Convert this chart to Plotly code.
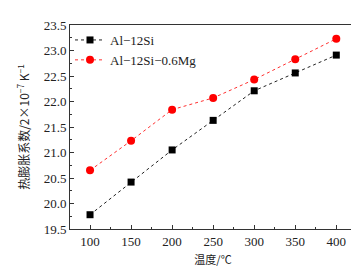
import plotly.graph_objects as go

temps = [100, 150, 200, 250, 300, 350, 400]
al12si = [19.78, 20.42, 21.05, 21.63, 22.21, 22.56, 22.91]
al12si_mg = [20.65, 21.23, 21.84, 22.07, 22.43, 22.83, 23.23]
series_names = ["Al\u221212Si", "Al\u221212Si\u22120.6Mg"]
x_title = "温度/℃"
y_title = "热膨胀系数/2×10<sup>−7</sup> K<sup>−1</sup>"

serif = "Liberation Serif, Noto Sans CJK SC, serif"

fig = go.Figure()
fig.add_trace(go.Scatter(
    x=temps, y=al12si, name=series_names[0], mode="lines+markers",
    line=dict(color="#222222", width=1, dash="3px,3px"),
    marker=dict(symbol="square", size=7, color="black"),
))
fig.add_trace(go.Scatter(
    x=temps, y=al12si_mg, name=series_names[1], mode="lines+markers",
    line=dict(color="#ff3030", width=1, dash="3px,3px"),
    marker=dict(symbol="circle", size=8, color="#ff0000"),
))

fig.update_layout(
    width=359, height=266,
    margin=dict(l=62, r=11, t=10, b=40),
    paper_bgcolor="white", plot_bgcolor="white",
    font=dict(family=serif, size=13, color="#222222"),
    showlegend=True,
    legend=dict(x=0.0, y=1.0, xanchor="left", yanchor="top",
                bgcolor="rgba(0,0,0,0)", font=dict(size=13, family=serif),
                itemwidth=30, tracegroupgap=0),
)
fig.update_xaxes(
    range=[75.6, 424], tickvals=temps, showgrid=False, zeroline=False,
    showline=True, linecolor="#333333", linewidth=1, mirror=True,
    ticks="inside", ticklen=4, tickcolor="#333333",
    minor=dict(dtick=25, tick0=75, ticks="inside", ticklen=2, tickcolor="#333333"),
    title=dict(text=x_title, font=dict(size=11, family="Noto Sans CJK SC"), standoff=8),
    tickfont=dict(size=13, family=serif),
)
fig.update_yaxes(
    range=[19.5, 23.5], dtick=0.5, tickformat=".1f", showgrid=False, zeroline=False,
    showline=True, linecolor="#333333", linewidth=1, mirror=True,
    ticks="inside", ticklen=4, tickcolor="#333333",
    minor=dict(dtick=0.25, ticks="inside", ticklen=2, tickcolor="#333333"),
    title=dict(text=y_title, font=dict(size=12, family="Noto Sans CJK SC"), standoff=11),
    tickfont=dict(size=13, family=serif),
)

fig.write_html("out.html")
